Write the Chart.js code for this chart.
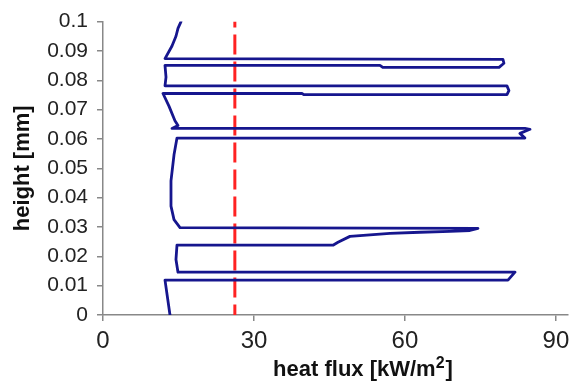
<!DOCTYPE html>
<html>
<head>
<meta charset="utf-8">
<script src="https://cdn.jsdelivr.net/npm/chart.js@4/dist/chart.umd.min.js"></script>
<style>
  body { margin: 0; background: #fff; }
</style>
</head>
<body>
<canvas id="myChart" width="584" height="385"></canvas>
<script>
// heat flux profile from bottom to top
const flux = [
  13.31, 12.32, 80.47, 81.86, 14.90, 14.50, 14.70, 45.70, 46.69, 49.07,
  57.02, 62.98, 68.94, 72.91, 74.50, 15.30, 14.11, 13.51, 13.51, 14.11,
  14.70, 83.84, 82.85, 84.84, 83.84, 13.71, 14.90, 14.30, 13.11, 11.92,
  39.54, 39.9, 80.27, 80.66, 80.27, 12.32, 12.52, 12.32, 55.03, 55.6,
  78.7, 79.67, 79.47, 12.32, 13.71, 14.50, 14.90, 15.50
];
const height = [
  0, 0.0119, 0.0119, 0.0146, 0.0146, 0.0189, 0.0238, 0.0238, 0.0248, 0.0268,
  0.0278, 0.0282, 0.0285, 0.0288, 0.0295, 0.0298, 0.0325, 0.0371, 0.0457, 0.0546,
  0.0603, 0.0603, 0.0619, 0.0633, 0.0636, 0.0636, 0.0646, 0.0662, 0.0712, 0.0755,
  0.0755, 0.0751, 0.0751, 0.0765, 0.0781, 0.0781, 0.0811, 0.0851, 0.0851, 0.0844,
  0.0844, 0.0858, 0.0871, 0.0874, 0.0917, 0.0950, 0.0977, 0.1
];
const meanFlux = 26.2;
const xTicks = [0, 30, 60, 90];
const yTicks = [0, 0.01, 0.02, 0.03, 0.04, 0.05, 0.06, 0.07, 0.08, 0.09, 0.1];

const profile = flux.map((v, i) => ({ x: v, y: height[i] }));
const meanLine = [{ x: meanFlux, y: 0.1 }, { x: meanFlux, y: 0 }];

// x title with a real superscript
const xTitle = {
  id: "xTitle",
  afterDraw(chart) {
    const c = chart.ctx;
    c.save();
    c.fillStyle = "#111";
    c.textBaseline = "alphabetic";
    c.font = "bold 22px Arial";
    const a = "heat flux [kW/m", b = "]";
    const sup = "2";
    const wa = c.measureText(a).width, wb = c.measureText(b).width;
    c.font = "bold 16px Arial";
    const ws = c.measureText(sup).width;
    let x = 363 - (wa + ws + wb + 1) / 2;
    const y = 376;
    c.font = "bold 22px Arial";
    c.fillText(a, x, y);
    x += wa;
    c.font = "bold 16px Arial";
    c.fillText(sup, x, y - 8);
    x += ws + 1;
    c.font = "bold 22px Arial";
    c.fillText(b, x, y);
    c.restore();
  }
};

new Chart(document.getElementById("myChart").getContext("2d"), {
  type: "scatter",
  data: {
    datasets: [
      {
        data: profile,
        showLine: true,
        borderColor: "#16168e",
        borderWidth: 2.8,
        borderJoinStyle: "round",
        borderCapStyle: "round",
        pointRadius: 0,
        tension: 0,
      },
      {
        data: meanLine,
        showLine: true,
        borderColor: "#ff2222",
        borderWidth: 3,
        borderDash: [20, 7],
        borderDashOffset: 14,
        pointRadius: 0,
      },
    ],
  },
  options: {
    responsive: false,
    animation: false,
    layout: { padding: { top: 13, right: 16, left: 0, bottom: 0 } },
    plugins: { legend: { display: false }, tooltip: { enabled: false } },
    scales: {
      x: {
        type: "linear",
        min: 0,
        max: 92.4,
        afterBuildTicks: (s) => { s.ticks = xTicks.map((v) => ({ value: v })); },
        afterFit: (s) => { s.height = 70; },
        border: { color: "#888", width: 1.5 },
        grid: { drawOnChartArea: false, drawTicks: true, tickLength: 6, color: "#888", lineWidth: 1.5 },
        ticks: { font: { family: "Arial", size: 24 }, color: "#222", padding: 6, maxRotation: 0 },
      },
      y: {
        min: 0,
        max: 0.1,
        afterBuildTicks: (s) => { s.ticks = yTicks.map((v) => ({ value: v })); },
        afterFit: (s) => { s.width = 103; },
        border: { color: "#888", width: 1.5 },
        grid: { drawOnChartArea: false, drawTicks: true, tickLength: 6, color: "#888", lineWidth: 1.5 },
        ticks: {
          font: { family: "Arial", size: 21 },
          color: "#222",
          padding: 9,
          callback: (v) => String(Number(v.toFixed(2))),
        },
        title: {
          display: true,
          text: "height [mm]",
          font: { family: "Arial", size: 22, weight: "bold" },
          color: "#111",
          padding: { top: 10, bottom: 0 },
        },
      },
    },
  },
  plugins: [xTitle],
});
</script>
</body>
</html>
